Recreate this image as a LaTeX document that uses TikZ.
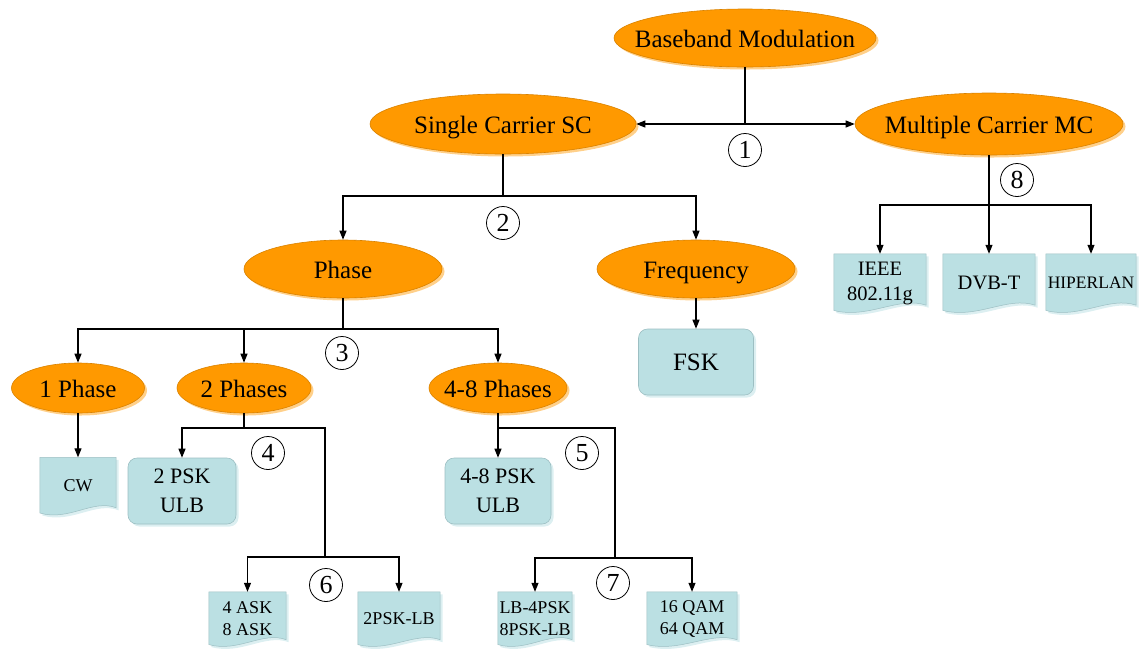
\documentclass[tikz,border=0pt]{standalone}
\usepackage{fontspec}
\setmainfont{Liberation Serif}
\usetikzlibrary{arrows.meta,shapes.geometric,shadows,calc}
\definecolor{org}{HTML}{FF9900}
\definecolor{orgline}{HTML}{D98200}
\definecolor{orgshadow}{HTML}{FFD08A}
\definecolor{blu}{HTML}{BBE0E3}
\definecolor{bluline}{HTML}{9DBFC3}
\definecolor{blushadow}{HTML}{DCEFF1}
\pgfdeclarelayer{background}
\pgfsetlayers{background,main}
\newcommand\docpath[3]{%
  \path[#2] let \p1=(#1.north west), \p2=(#1.south east), \n1={\y1-\y2}, \n2={\x2-\x1} in
  ({\x1+#3},{\y1-#3}) -- ({\x2+#3},{\y1-#3}) -- ({\x2+#3},{\y2+0.12*\n1-#3})
  .. controls ({\x2-0.3*\n2+#3},{\y2+0.28*\n1-#3}) and ({\x1+0.38*\n2+#3},{\y2-0.12*\n1-#3}) ..
  ({\x1+#3},{\y2+0.03*\n1-#3}) -- cycle;}
\tikzset{
  ellfont/.style={font=\fontsize{25}{30}\selectfont, text height=18pt, text depth=0pt, inner sep=0pt},
  ell/.style={ellipse, fill=org, draw=orgline, line width=0.6pt, inner sep=0pt,
    drop shadow={shadow xshift=2.5pt, shadow yshift=-2.5pt, fill=orgshadow, opacity=1},
    label={[ellfont]center:#1}},
  rbox/.style={rectangle, rounded corners=9pt, fill=blu, draw=bluline, line width=0.6pt,
    align=center, inner sep=0pt, font=\fontsize{22}{29}\selectfont,
    drop shadow={shadow xshift=2.5pt, shadow yshift=-2.5pt, fill=blushadow, opacity=1}},
  docn/.style={rectangle, inner sep=0pt, align=center, font=\fontsize{18}{22}\selectfont},
  docfill/.style={fill=blu, draw=bluline, line width=0.5pt},
  docshadow/.style={fill=blushadow},
  num/.style={circle, draw, line width=0.8pt, minimum size=33pt, inner sep=0pt,
    font=\fontsize{26}{26}\selectfont},
  con/.style={line width=1.1pt},
  arr/.style={con, -{Triangle[length=9pt,width=7pt]}},
}
\begin{document}
\begin{tikzpicture}[x=1pt,y=-1pt]
\useasboundingbox (0,0) rectangle (1139,649);

% ellipses
\node[ell=Baseband Modulation, minimum width=262pt, minimum height=58pt] (bm) at (745,38) {};
\node[ell=Single Carrier SC, minimum width=266pt, minimum height=60pt] (sc) at (503,124) {};
\node[ell=Multiple Carrier MC, minimum width=268pt, minimum height=62pt] (mc) at (989,124) {};
\node[ell=Phase, minimum width=198pt, minimum height=58pt] (ph) at (343,269) {};
\node[ell=Frequency, minimum width=198pt, minimum height=58pt] (fr) at (696,269) {};
\node[ell=1 Phase, minimum width=133pt, minimum height=50pt] (p1) at (78,388) {};
\node[ell=2 Phases, minimum width=134pt, minimum height=50pt] (p2) at (244,388) {};
\node[ell=4-8 Phases, minimum width=138pt, minimum height=50pt] (p48) at (498,388) {};

% rounded boxes
\node[rbox, minimum width=115pt, minimum height=66pt, font=\fontsize{25}{30}\selectfont] (fsk) at (696,362) {FSK};
\node[rbox, minimum width=108pt, minimum height=66pt] (psk2) at (182,491) {2 PSK\\ULB};
\node[rbox, minimum width=106pt, minimum height=66pt] (psk48) at (498,491) {4-8 PSK\\ULB};

% documents
\node[docn, minimum width=92pt, minimum height=58pt, font=\fontsize{20.5}{25}\selectfont] (ieee) at (880,283) {IEEE\\802.11g};
\node[docn, minimum width=92pt, minimum height=58pt, font=\fontsize{20.5}{25}\selectfont] (dvb) at (989,283) {DVB-T};
\node[docn, minimum width=90pt, minimum height=58pt, font=\fontsize{17.5}{21}\selectfont] (hip) at (1091,283) {HIPERLAN};
\node[docn, minimum width=76pt, minimum height=57pt] (cw) at (78,486) {CW};
\node[docn, minimum width=77pt, minimum height=54pt] (ask) at (247.5,619) {4 ASK\\8 ASK};
\node[docn, minimum width=82pt, minimum height=54pt] (pskl) at (399,619) {2PSK-LB};
\node[docn, minimum width=74pt, minimum height=54pt] (lb) at (535,619) {LB-4PSK\\8PSK-LB};
\node[docn, minimum width=90pt, minimum height=54pt] (qam) at (692,619) {16 QAM\\64 QAM};

\begin{pgfonlayer}{background}
\foreach \d in {ieee,dvb,hip,cw,ask,pskl,lb,qam}{
  \docpath{\d}{docshadow}{2.5}
  \docpath{\d}{docfill}{0}
}
\end{pgfonlayer}

% connector 1
\coordinate (j1) at (745,124);
\draw[con] (bm.south) -- (j1);
\draw[arr] (j1) -- (sc.east);
\draw[arr] (j1) -- (mc.west);
\node[num] (n1) at (745,150) {1};

% connector 8
\coordinate (j8) at (989,205);
\draw[arr] (mc.south) -- (dvb.north);
\draw[arr] (j8) -| (ieee.north);
\draw[arr] (j8) -| (hip.north);
\node[num] (n8) at (1017,180) {8};

% connector 2
\coordinate (j2) at (503,196);
\draw[con] (sc.south) -- (j2);
\draw[arr] (j2) -| (ph.north);
\draw[arr] (j2) -| (fr.north);
\node[num] (n2) at (503,223) {2};
\draw[arr] (fr.south) -- (fsk.north);

% connector 3
\coordinate (j3) at (343,329);
\draw[con] (ph.south) -- (j3);
\draw[arr] (j3) -| (p1.north);
\draw[arr] (j3) -| (p2.north);
\draw[arr] (j3) -| (p48.north);
\node[num] (n3) at (342,353) {3};
\draw[arr] (p1.south) -- (cw.north);

% connectors 4 and 6
\coordinate (j4) at (244,428);
\coordinate (j4r) at (325,428);
\coordinate (j6) at (325,557);
\draw[con] (p2.south) -- (j4);
\draw[arr] (j4) -| (psk2.north);
\draw[con] (j4) -- (j4r) -- (j6);
\draw[arr] (j6) -| (ask.north);
\draw[arr] (j6) -| (pskl.north);
\node[num] (n4) at (268,453) {4};
\node[num] (n6) at (326,585) {6};

% connectors 5 and 7
\coordinate (j5) at (498,428);
\coordinate (j5r) at (615,428);
\coordinate (j7) at (615,558);
\draw[arr] (p48.south) -- (psk48.north);
\draw[con] (j5) -- (j5r) -- (j7);
\draw[arr] (j7) -| (lb.north);
\draw[arr] (j7) -| (qam.north);
\node[num] (n5) at (582,453) {5};
\node[num] (n7) at (613,583) {7};
\end{tikzpicture}
\end{document}
